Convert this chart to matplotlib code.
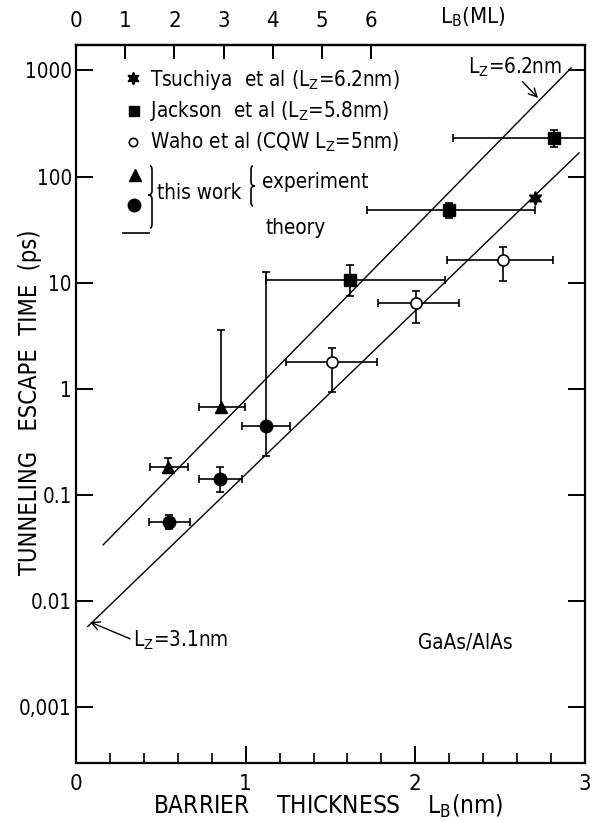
import numpy as np
import matplotlib
matplotlib.use("Agg")
import matplotlib.pyplot as plt
from matplotlib import font_manager
from matplotlib.path import Path
from matplotlib.patches import PathPatch

cond = any(f.name == "DejaVu Sans" and str(f.stretch) in ("condensed", "semi-condensed")
           for f in font_manager.fontManager.ttflist)
plt.rcParams['font.family'] = ['DejaVu Sans']
if cond:
    plt.rcParams['font.stretch'] = 'condensed'
plt.rcParams['mathtext.fontset'] = 'custom'
plt.rcParams['mathtext.rm'] = 'DejaVu Sans'
SC = 1.06 if cond else 1.0

# ---------------- data ----------------
# Tsuchiya et al (star)
ts_x = [2.705]
ts_y = [63.0]

# Jackson et al (filled square)
ja_x = [1.613, 2.197, 2.818]
ja_y = [10.6, 48.5, 231.0]
ja_xlo = [1.122, 1.713, 2.221]
ja_xhi = [2.174, 2.705, 3.0]
ja_ylo = [7.5, 40.7, 190.0]
ja_yhi = [14.7, 56.0, 275.0]

# Waho et al (open circle)
wa_x = [1.506, 2.002, 2.516]
wa_y = [1.80, 6.45, 16.4]
wa_xlo = [1.236, 1.778, 2.185]
wa_xhi = [1.776, 2.256, 2.812]
wa_ylo = [0.94, 4.18, 10.4]
wa_yhi = [2.43, 8.4, 21.7]

# this work, experiment (triangle)
tri_x = [0.543, 0.856]
tri_y = [0.184, 0.677]
tri_xlo = [0.437, 0.727]
tri_xhi = [0.662, 0.998]
tri_ylo = [0.162, 0.59]
tri_yhi = [0.224, 3.6]

# this work, theory (filled circle)
ci_x = [0.549, 0.851, 1.122]
ci_y = [0.056, 0.142, 0.449]
ci_xlo = [0.431, 0.727, 0.981]
ci_xhi = [0.673, 0.981, 1.264]
ci_ylo = [0.048, 0.107, 0.234]
ci_yhi = [0.065, 0.184, 12.6]

# theory lines
l62_x = [0.16, 2.918]
l62_y = [0.034, 1054.0]
l31_x = [0.07, 2.965]
l31_y = [0.0058, 167.0]

top_ticks_ml = [0, 1, 2, 3, 4, 5, 6]
ML_NM = 0.29
y_ticks = [0.001, 0.01, 0.1, 1, 10, 100, 1000]
y_ticklabels = ["0,001", "0.01", "0.1", "1", "10", "100", "1000"]

# ---------------- figure ----------------
W, H = 595, 821
fig = plt.figure(figsize=(W/100, H/100), dpi=100)
ax = fig.add_axes([76/W, 1-763/H, (585-76)/W, (763-45)/H])
ax.set_yscale('log')
ax.set_xlim(0, 3)
ax.set_ylim(3.0e-4, 1734)

for s in ax.spines.values():
    s.set_linewidth(1.6)

lw = 1.0
ax.plot(l62_x, l62_y, color='black', lw=lw)
ax.plot(l31_x, l31_y, color='black', lw=lw)

def eb(x, y, xlo, xhi, ylo, yhi, **kw):
    x = np.array(x); y = np.array(y)
    xerr = [x - np.array(xlo), np.array(xhi) - x]
    yerr = [y - np.array(ylo), np.array(yhi) - y]
    ax.errorbar(x, y, xerr=xerr, yerr=yerr, fmt='none', ecolor='black',
                elinewidth=1.2, capsize=3, capthick=1.2, zorder=3)
    ax.plot(x, y, linestyle='none', zorder=4, **kw)

eb(ja_x, ja_y, ja_xlo, ja_xhi, ja_ylo, ja_yhi, marker='s', ms=8, mfc='black', mec='black')
eb(wa_x, wa_y, wa_xlo, wa_xhi, wa_ylo, wa_yhi, marker='o', ms=8, mfc='white', mec='black', mew=1.2)
eb(tri_x, tri_y, tri_xlo, tri_xhi, tri_ylo, tri_yhi, marker='^', ms=8, mfc='black', mec='black')
eb(ci_x, ci_y, ci_xlo, ci_xhi, ci_ylo, ci_yhi, marker='o', ms=9, mfc='black', mec='black')
ax.plot(ts_x, ts_y, linestyle='none', marker=(6, 1, 0), ms=10, color='black', zorder=4)

# ticks
ax.set_yticks(y_ticks)
ax.set_yticklabels(y_ticklabels)
ax.yaxis.set_minor_locator(matplotlib.ticker.NullLocator())
ax.tick_params(axis='y', which='major', direction='in', length=12, width=1.4,
               labelsize=14*SC, pad=3, right=True)
ax.set_xticks([0, 1, 2, 3])
ax.set_xticks(np.arange(0, 3.01, 0.2), minor=True)
ax.tick_params(axis='x', which='major', direction='in', length=12, width=1.4,
               labelsize=15*SC, pad=8)
ax.tick_params(axis='x', which='minor', direction='in', length=7, width=1.2)

# top axis in ML
axt = ax.secondary_xaxis('top', functions=(lambda v: v / ML_NM, lambda v: v * ML_NM))
axt.set_xticks(top_ticks_ml)
axt.tick_params(axis='x', direction='in', length=10, width=1.4, labelsize=15*SC, pad=10)
axt.spines['top'].set_linewidth(1.6)
fig.text(440/W, 1-17/H, r"L$_\mathregular{B}$(ML)", fontsize=15*SC, ha='left', va='center')

fig.text(328/W, 1-806/H, r"BARRIER    THICKNESS    L$_\mathregular{B}$(nm)", fontsize=16.5*SC,
         ha='center', va='center')
fig.text(30/W, 1-402/H, "TUNNELING   ESCAPE  TIME  (ps)", fontsize=16*SC,
         ha='center', va='center', rotation=90)

# legend drawn by hand
def px(xp, yp):
    return (xp/W, 1 - yp/H)

tf = fig.transFigure
def mk(xp, yp, **kw):
    fig.lines.append(matplotlib.lines.Line2D([xp/W], [1-yp/H], transform=tf, ls='none', **kw))

mk(133, 78, marker=(6, 1, 0), ms=9, color='black')
mk(134, 111, marker='s', ms=7, color='black')
mk(133, 142, marker='o', ms=6, mfc='white', mec='black', mew=1.2)
mk(135, 175, marker='^', ms=8, color='black')
mk(134, 205, marker='o', ms=9, color='black')
fig.lines.append(matplotlib.lines.Line2D([123/W, 149/W], [1-233/H, 1-233/H], transform=tf,
                                         color='black', lw=1.2))

def brace(x, y0, y1, ytip, w, left=True, lw=1.2):
    s = -1 if left else 1
    xb = x
    xt = x + s * w
    q = w * 0.5
    verts = [
        (xb + s * q, y0),
        (xb, y0), (xb, y0 + 4),
        (xb, ytip - 4),
        (xb, ytip), (xt, ytip),
        (xb, ytip), (xb, ytip + 4),
        (xb, y1 - 4),
        (xb, y1), (xb + s * q, y1),
    ]
    verts = [(vx / W, 1 - vy / H) for vx, vy in verts]
    codes = [Path.MOVETO, Path.CURVE3, Path.CURVE3, Path.LINETO, Path.CURVE3, Path.CURVE3,
             Path.CURVE3, Path.CURVE3, Path.LINETO, Path.CURVE3, Path.CURVE3]
    fig.patches.append(PathPatch(Path(verts, codes), transform=tf, fill=False,
                                 edgecolor='black', lw=lw))

fs = 14*SC
fig.text(*px(150, 80), r"Tsuchiya  et al (L$_\mathregular{Z}$=6.2nm)", fontsize=fs, va='center')
fig.text(*px(150, 111), r"Jackson  et al (L$_\mathregular{Z}$=5.8nm)", fontsize=fs, va='center')
fig.text(*px(150, 142), r"Waho et al (CQW L$_\mathregular{Z}$=5nm)", fontsize=fs, va='center')
brace(152, 166, 228, 195, 4, left=True)
fig.text(*px(157, 193), "this work", fontsize=fs, va='center')
brace(251, 166, 206, 186, 4, left=False)
fig.text(*px(262, 182), "experiment", fontsize=fs, va='center')
fig.text(*px(265, 228), "theory", fontsize=fs, va='center')

# annotations
ax.annotate(r"L$_\mathregular{Z}$=6.2nm", xy=(538/W, 1-98/H), xycoords='figure fraction',
            xytext=(468/W, 1-67/H), textcoords='figure fraction', fontsize=14*SC,
            va='center', ha='left',
            arrowprops=dict(arrowstyle='->', lw=1.0, color='black', shrinkA=0, shrinkB=0,
                            relpos=(0.55, 0.0)))
ax.annotate(r"L$_\mathregular{Z}$=3.1nm", xy=(90/W, 1-622/H), xycoords='figure fraction',
            xytext=(133/W, 1-640/H), textcoords='figure fraction', fontsize=14*SC,
            va='center', ha='left',
            arrowprops=dict(arrowstyle='->', lw=1.0, color='black', shrinkA=0, shrinkB=0,
                            relpos=(0.0, 0.5)))
fig.text(*px(418, 642), "GaAs/AlAs", fontsize=14*SC, va='center')

fig.savefig("out.png", dpi=100)
